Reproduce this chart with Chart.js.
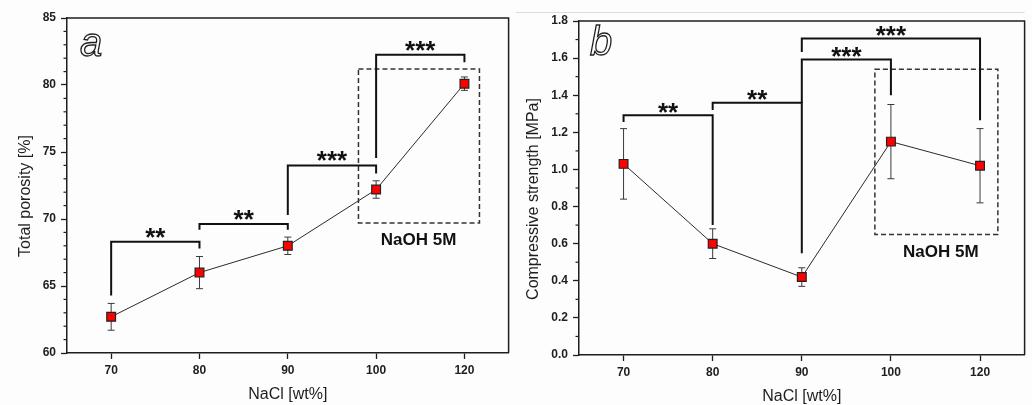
<!DOCTYPE html>
<html>
<head>
<meta charset="utf-8">
<script src="https://cdn.jsdelivr.net/npm/chart.js@4.4.0/dist/chart.umd.min.js"></script>
<style>
  html, body { margin: 0; padding: 0; background: #fdfdfd; }
  .panel { position: absolute; top: 0; width: 516px; height: 405px; }
  #wrapA { left: 0; }
  #wrapB { left: 516px; }
</style>
</head>
<body>
<div class="panel" id="wrapA"><canvas id="chartA" width="516" height="405"></canvas></div>
<div class="panel" id="wrapB"><canvas id="chartB" width="516" height="405"></canvas></div>
<script>
const nacl = ['70', '80', '90', '100', '120']

const porosity = [62.7, 66.0, 68.0, 72.2, 80.1]
const porosityErr = [1.0, 1.2, 0.65, 0.65, 0.5]
const porosityTicks = [60, 65, 70, 75, 80, 85]

const strength = [1.03, 0.60, 0.42, 1.15, 1.02]
const strengthErr = [0.19, 0.08, 0.05, 0.20, 0.20]
const strengthTicks = [0, 0.2, 0.4, 0.6, 0.8, 1.0, 1.2, 1.4, 1.6, 1.8]

// significance brackets: from, to, bar level, left leg end, right leg end, stars
const porosityBrackets = [
    [0, 1, 68.3, 64.3, 67.8, '**'],
    [1, 2, 69.63, 69.2, 69.2, '**'],
    [2, 3, 74.0, 70.3, 73.4, '***'],
    [3, 4, 82.25, 74.55, 81.7, '***'],
]
const strengthBrackets = [
    [0, 1, 1.292, 1.256, 0.70, '**'],
    [1, 2, 1.359, 1.32, 0.548, '**'],
    [2, 3, 1.592, 1.36, 1.40, '***'],
    [2, 4, 1.706, 1.633, 1.265, '***'],
]

// dashed "NaOH 5M" box: x from, x to, y low, y high
const porosityBox = [2.80, 4.17, 69.7, 81.2]
const strengthBox = [2.82, 4.20, 0.65, 1.54]

const FONT = '"Liberation Sans", Arial, sans-serif'
const INK = '#1e1e1e'

function panelPlugin(cfg) {
    return {
        id: 'panel_' + cfg.letter,
        beforeDatasetsDraw(chart) {
            const { ctx } = chart
            const x = chart.scales.x
            const y = chart.scales.y
            ctx.save()
            ctx.strokeStyle = '#3a3a3a'
            ctx.lineWidth = 1
            cfg.values.forEach((v, i) => {
                const px = x.getPixelForValue(i)
                const top = y.getPixelForValue(v + cfg.errors[i])
                const bot = y.getPixelForValue(v - cfg.errors[i])
                ctx.beginPath()
                ctx.moveTo(px, top); ctx.lineTo(px, bot)
                ctx.moveTo(px - 3.5, top); ctx.lineTo(px + 3.5, top)
                ctx.moveTo(px - 3.5, bot); ctx.lineTo(px + 3.5, bot)
                ctx.stroke()
            })
            ctx.restore()
        },
        afterDraw(chart) {
            const { ctx, chartArea: a } = chart
            const x = chart.scales.x
            const y = chart.scales.y
            ctx.save()

            if (cfg.topRule) {
                ctx.strokeStyle = '#dcdcdc'
                ctx.lineWidth = 1
                ctx.beginPath()
                ctx.moveTo(0, 12.5); ctx.lineTo(a.right, 12.5)
                ctx.stroke()
            }

            // frame
            ctx.strokeStyle = INK
            ctx.lineWidth = 1.5
            ctx.beginPath()
            ctx.moveTo(a.left, a.top); ctx.lineTo(a.right, a.top); ctx.lineTo(a.right, a.bottom)
            ctx.stroke()

            // minor ticks
            ctx.lineWidth = 1.2
            const t = cfg.ticks
            for (let k = 0; k < t.length - 1; k++) {
                const step = (t[k + 1] - t[k]) / cfg.minor
                for (let m = 1; m < cfg.minor; m++) {
                    const py = y.getPixelForValue(t[k] + m * step)
                    ctx.beginPath()
                    ctx.moveTo(a.left - 3.5, py); ctx.lineTo(a.left, py)
                    ctx.stroke()
                }
            }

            // dashed box
            const b = cfg.box
            ctx.setLineDash([5, 3])
            ctx.lineWidth = 1.5
            ctx.strokeStyle = '#333'
            const bx0 = x.getPixelForValue(b[0]), bx1 = x.getPixelForValue(b[1])
            const by0 = y.getPixelForValue(b[3]), by1 = y.getPixelForValue(b[2])
            ctx.strokeRect(bx0, by0, bx1 - bx0, by1 - by0)
            ctx.setLineDash([])

            // brackets
            ctx.strokeStyle = '#111'
            ctx.lineWidth = 2
            ctx.fillStyle = '#111'
            ctx.font = 'bold 26px ' + FONT
            ctx.textAlign = 'center'
            ctx.textBaseline = 'alphabetic'
            cfg.brackets.forEach(([from, to, lvl, l0, l1, label]) => {
                const xa = x.getPixelForValue(from), xb = x.getPixelForValue(to)
                const yl = y.getPixelForValue(lvl)
                ctx.beginPath()
                ctx.moveTo(xa, y.getPixelForValue(l0))
                ctx.lineTo(xa, yl); ctx.lineTo(xb, yl)
                ctx.lineTo(xb, y.getPixelForValue(l1))
                ctx.stroke()
                ctx.fillText(label, (xa + xb) / 2, yl - cfg.starGap + 14)
            })

            // NaOH label
            ctx.font = 'bold 17px ' + FONT
            ctx.textBaseline = 'middle'
            ctx.fillText('NaOH 5M', x.getPixelForValue(cfg.note[0]), y.getPixelForValue(cfg.note[1]))

            // panel letter
            ctx.font = 'italic 40px ' + FONT
            ctx.textAlign = 'left'
            ctx.textBaseline = 'alphabetic'
            ctx.lineWidth = 1.3
            ctx.strokeStyle = INK
            ctx.strokeText(cfg.letter, cfg.letterPos[0], cfg.letterPos[1])

            // axis titles
            ctx.fillStyle = INK
            ctx.font = '16px ' + FONT
            ctx.textAlign = 'center'
            ctx.textBaseline = 'middle'
            ctx.fillText('NaCl [wt%]', (a.left + a.right) / 2, cfg.xTitleY)
            ctx.translate(cfg.yTitle[0], cfg.yTitle[1])
            ctx.rotate(-Math.PI / 2)
            ctx.fillText(cfg.yLabel, 0, 0)

            ctx.restore()
        }
    }
}

function makePanel(canvasId, cfg) {
    const ctx = document.getElementById(canvasId).getContext('2d')
    return new Chart(ctx, {
        type: 'line',
        data: {
            labels: nacl,
            datasets: [{
                data: cfg.values,
                borderColor: '#2a2a2a',
                borderWidth: 1,
                pointStyle: 'rect',
                pointRadius: 6.2,
                pointBackgroundColor: '#ff0000',
                pointBorderColor: '#222',
                pointBorderWidth: 1.2,
                tension: 0,
                fill: false,
            }]
        },
        options: {
            responsive: false,
            animation: false,
            layout: { padding: cfg.padding },
            plugins: {
                legend: { display: false },
                tooltip: { enabled: false },
            },
            scales: {
                x: {
                    type: 'category',
                    offset: true,
                    grid: { offset: false, drawOnChartArea: false, tickLength: 6, tickColor: INK, tickWidth: 1.3 },
                    border: { color: INK, width: 1.5 },
                    ticks: { color: INK, padding: 4, font: { family: FONT, size: 12, weight: 'bold' } },
                    afterFit: s => { s.height = cfg.xHeight },
                },
                y: {
                    min: cfg.ticks[0],
                    max: cfg.ticks[cfg.ticks.length - 1],
                    afterBuildTicks: s => { s.ticks = cfg.ticks.map(v => ({ value: v })) },
                    grid: { drawOnChartArea: false, tickLength: 6, tickColor: INK, tickWidth: 1.3 },
                    border: { color: INK, width: 1.5 },
                    ticks: {
                        color: INK, padding: 5,
                        font: { family: FONT, size: 12, weight: 'bold' },
                        callback: cfg.fmt,
                    },
                    afterFit: s => { s.width = cfg.yWidth },
                }
            }
        },
        plugins: [panelPlugin(cfg)]
    })
}

makePanel('chartA', {
    letter: 'a',
    values: porosity,
    errors: porosityErr,
    ticks: porosityTicks,
    minor: 5,
    brackets: porosityBrackets,
    box: porosityBox,
    note: [3.48, 68.43],
    starGap: 10,
    fmt: v => String(v),
    yLabel: 'Total porosity [%]',
    padding: { top: 18, right: 1, left: 0, bottom: 0 },
    yWidth: 67,
    xHeight: 52,
    letterPos: [80, 56],
    xTitleY: 395,
    yTitle: [26, 196],
})

makePanel('chartB', {
    letter: 'b',
    values: strength,
    errors: strengthErr,
    ticks: strengthTicks,
    minor: 2,
    brackets: strengthBrackets,
    box: strengthBox,
    note: [3.56, 0.556],
    starGap: 8.5,
    fmt: v => v.toFixed(1),
    yLabel: 'Compressive strength [MPa]',
    padding: { top: 21, right: 4, left: 0, bottom: 0 },
    yWidth: 63,
    xHeight: 50,
    letterPos: [74, 55],
    xTitleY: 397,
    yTitle: [18, 199],
    topRule: true,
})
</script>
</body>
</html>
